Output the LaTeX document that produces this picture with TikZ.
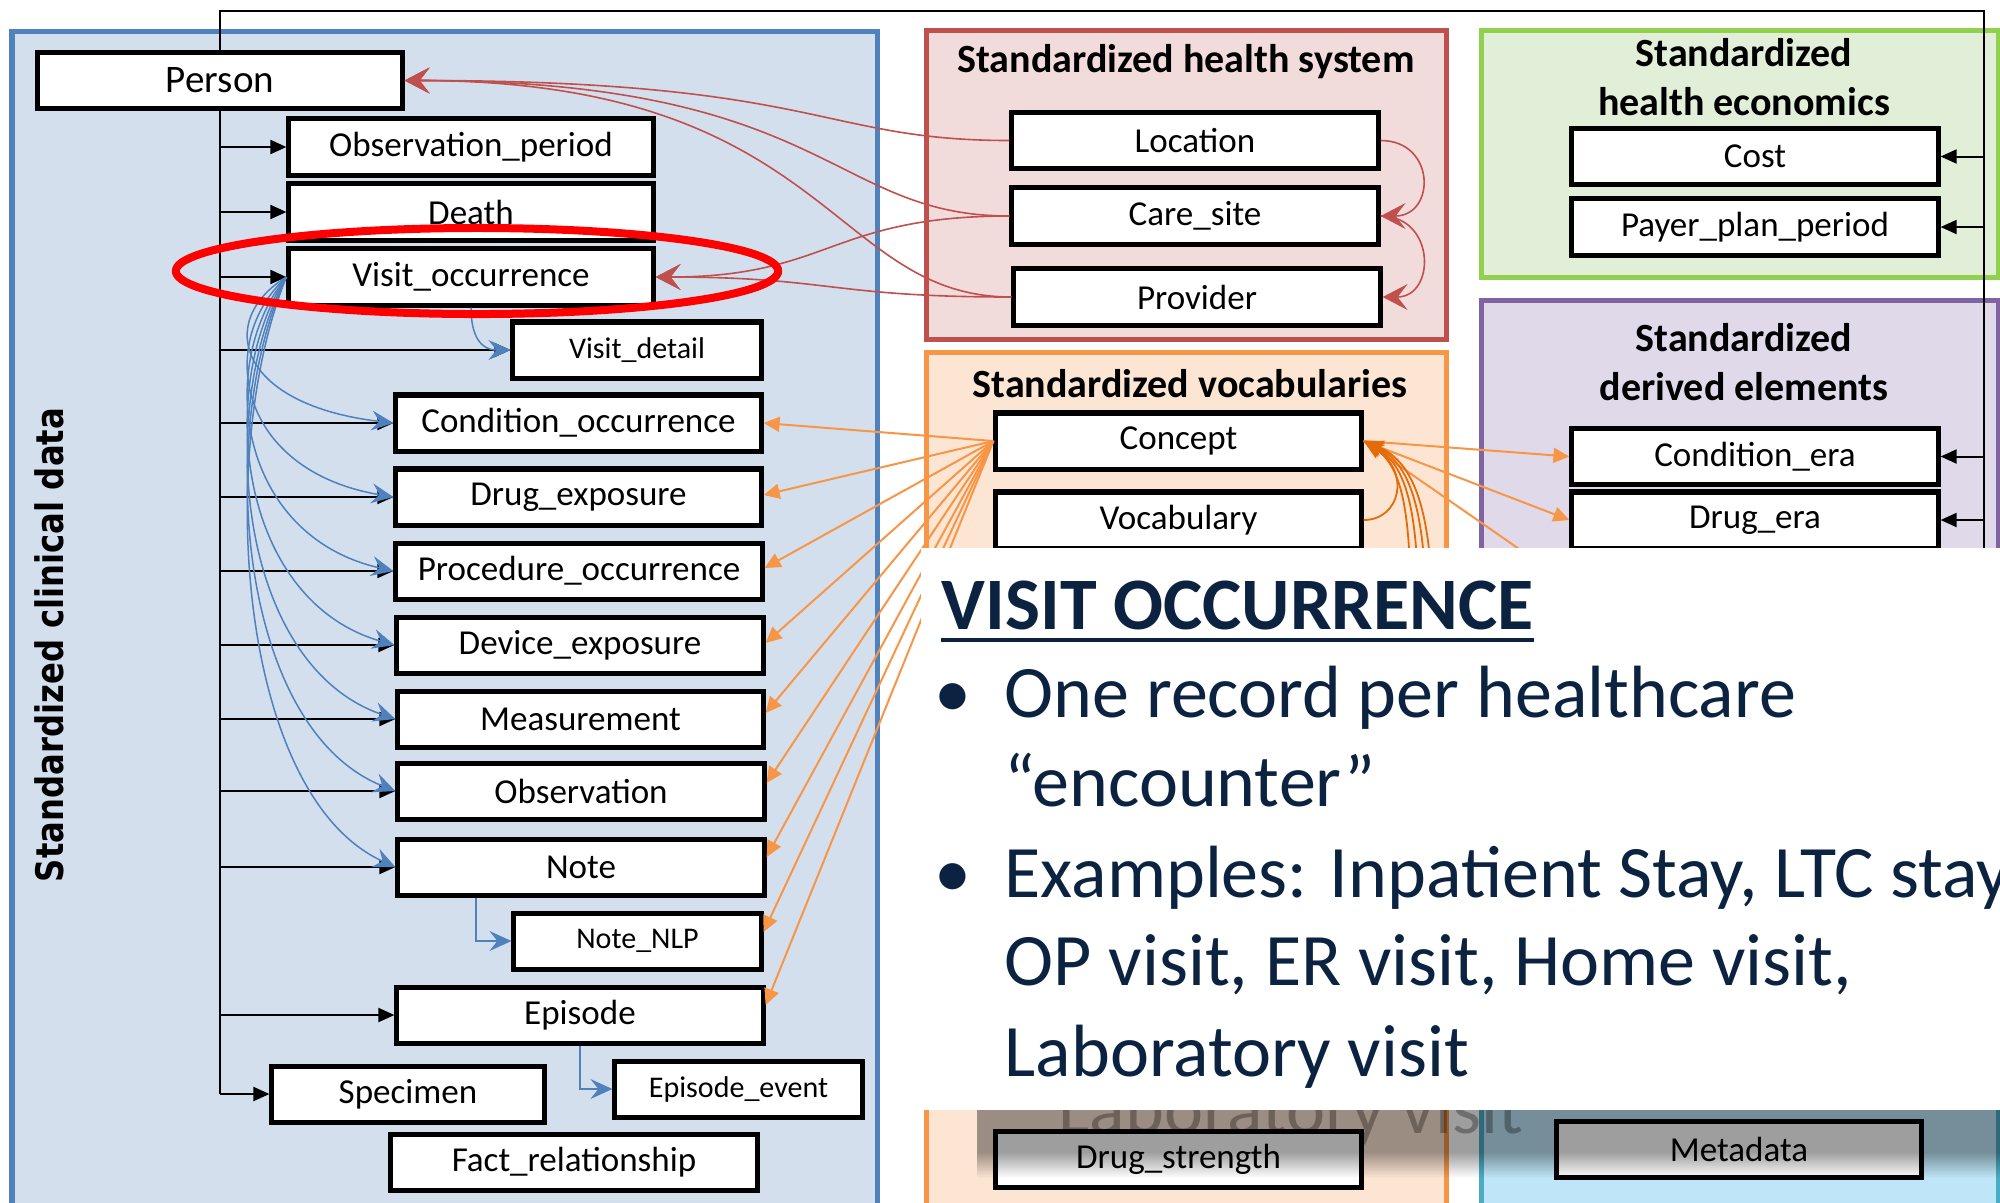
\documentclass[tikz,border=0pt]{standalone}
\usepackage{fontspec}
\setmainfont{Carlito}
\newfontfamily\clinfont[FakeStretch=0.85]{DejaVu Sans}
\usetikzlibrary{arrows.meta,calc,fadings}

\definecolor{clinfill}{HTML}{D4DFEE}
\definecolor{clinline}{HTML}{4F81BD}
\definecolor{hsfill}{HTML}{F2DCDB}
\definecolor{hsline}{HTML}{C0504D}
\definecolor{vocfill}{HTML}{FDE5D3}
\definecolor{vocline}{HTML}{F79646}
\definecolor{vocdark}{HTML}{E36C09}
\definecolor{econfill}{HTML}{E2EFD8}
\definecolor{econline}{HTML}{92D050}
\definecolor{derfill}{HTML}{E0D9E9}
\definecolor{derline}{HTML}{8064A2}
\definecolor{metafill}{HTML}{BEE6F8}
\definecolor{metaline}{HTML}{4BACC6}
\definecolor{navy}{HTML}{0B2340}

\pgfdeclarelayer{back}
\pgfdeclarelayer{front}
\pgfsetlayers{back,main,front}

\tikzset{
  tbl/.style={draw=black, line width=0.05cm, fill=white, inner sep=0pt,
    minimum height=0.56cm, font=\fontsize{9.96pt}{12pt}\selectfont},
  tblsmall/.style={tbl, font=\fontsize{8.54pt}{10pt}\selectfont},
  grptitle/.style={inner sep=0pt, align=center,
    font=\bfseries\fontsize{11.38pt}{13.9pt}\selectfont},
  trunk/.style={draw=black, line width=0.02cm},
  feed/.style={trunk, -{Triangle[length=0.16cm,width=0.14cm]}},
  visitlink/.style={draw=clinline, line width=0.015cm,
    -{Stealth[length=0.22cm,width=0.2cm,inset=0.08cm]}},
  siteref/.style={draw=hsline, line width=0.016cm,
    -{Stealth[length=0.25cm,width=0.26cm,inset=0.1cm]}},
  conceptref/.style={draw=vocline, line width=0.02cm,
    -{Triangle[length=0.16cm,width=0.15cm]}},
  vocabref/.style={draw=vocdark, line width=0.018cm,
    -{Stealth[length=0.2cm,width=0.16cm,inset=0.06cm]}},
  paneltext/.style={inner sep=0pt, anchor=base west, text=navy,
    font=\fontsize{21.05pt}{25pt}\selectfont},
}

\begin{document}
\begin{tikzpicture}[x=0.01cm, y=-0.01cm]
\useasboundingbox (0,0) rectangle (2000,1202);

% group backgrounds
\begin{pgfonlayer}{back}
  \fill[white] (0,0) rectangle (2000,1202);
  \draw[clinline, fill=clinfill, line width=0.05cm] (12,31) rectangle (877,1230);
  \draw[hsline, fill=hsfill, line width=0.05cm] (926,30) rectangle (1446,339);
  \draw[vocline, fill=vocfill, line width=0.05cm] (926,352) rectangle (1446,1230);
  \draw[econline, fill=econfill, line width=0.05cm] (1481,30) rectangle (1998,277);
  \draw[derline, fill=derfill, line width=0.05cm] (1481,300) rectangle (1998,700);
  \draw[metaline, fill=metafill, line width=0.05cm] (1481,1000) rectangle (1998,1230);
\end{pgfonlayer}

\coordinate (ltop) at (220,11);
\coordinate (rtop) at (1984,11);
\coordinate (rbot) at (1984,640);

% clinical data tables
\node[rotate=90, inner sep=0pt,
  font=\clinfont\bfseries\fontsize{10.8pt}{13pt}\selectfont] (cdtitle) at (49,645)
  {Standardized clinical data};
\node[tbl, minimum width=3.64cm, minimum height=0.55cm,
  font=\fontsize{11.1pt}{13pt}\selectfont] (person) at (220,80.5) {Person};
\node[tbl, minimum width=3.64cm] (obsper) at (471,147) {Observation\_period};
\node[tbl, minimum width=3.64cm] (death) at (471,212) {Death};
\node[tbl, minimum width=3.64cm] (visit) at (471,277) {Visit\_occurrence};
\node[tblsmall, minimum width=2.48cm] (vdetail) at (637,350) {Visit\_detail};
\node[tbl, minimum width=3.65cm] (cond) at (578.5,423) {Condition\_occurrence};
\node[tbl, minimum width=3.65cm] (drug) at (578.5,497) {Drug\_exposure};
\node[tbl, minimum width=3.66cm] (proc) at (579,571) {Procedure\_occurrence};
\node[tbl, minimum width=3.66cm] (device) at (580,645) {Device\_exposure};
\node[tbl, minimum width=3.65cm] (meas) at (580.5,719) {Measurement};
\node[tbl, minimum width=3.66cm] (obs) at (581,791) {Observation};
\node[tbl, minimum width=3.66cm] (note) at (581,867) {Note};
\node[tblsmall, minimum width=2.47cm] (nlp) at (637.5,941) {Note\_NLP};
\node[tbl, minimum width=3.66cm] (episode) at (580,1015) {Episode};
\node[tbl, minimum width=2.72cm] (specimen) at (408,1094) {Specimen};
\node[tblsmall, minimum width=2.47cm] (epevent) at (738.5,1089) {Episode\_event};
\node[tbl, minimum width=3.66cm] (factrel) at (574,1162) {Fact\_relationship};

% health system
\node[grptitle] (hstitle) at (1186,62) {Standardized health system};
\node[tbl, minimum width=3.66cm] (location) at (1195,140.5) {Location};
\node[tbl, minimum width=3.66cm] (caresite) at (1195,216) {Care\_site};
\node[tbl, minimum width=3.66cm] (provider) at (1197,297) {Provider};

% vocabularies
\node[grptitle] (voctitle) at (1190,384) {Standardized vocabularies};
\node[tbl, minimum width=3.65cm] (concept) at (1178.5,441) {Concept};
\node[tbl, minimum width=3.65cm] (vocab) at (1178.5,520) {Vocabulary};
\node[tbl, minimum width=3.65cm] (dstrength) at (1178.5,1159.5) {Drug\_strength};

% health economics
\node[grptitle] (etitle) at (1744,77.5) {Standardized\\health economics};
\node[tbl, minimum width=3.66cm] (cost) at (1755,156.5) {Cost};
\node[tbl, minimum width=3.66cm] (payer) at (1755,227) {Payer\_plan\_period};

% derived elements
\node[grptitle] (dtitle) at (1744,362) {Standardized\\derived elements};
\node[tbl, minimum width=3.66cm] (condera) at (1755,456.5) {Condition\_era};
\node[tbl, minimum width=3.66cm] (drugera) at (1755,520) {Drug\_era};

% metadata
\node[tbl, minimum width=3.64cm] (metadata) at (1739,1149.5) {Metadata};

% person trunk
\begin{pgfonlayer}{back}
  \draw[trunk] (rbot) -- (rtop) -- (ltop) -- (ltop |- specimen.west);
\end{pgfonlayer}
\foreach \t in {obsper,death,visit,vdetail,cond,drug,proc,device,meas,obs,note,episode,specimen}
  \draw[feed] (ltop |- \t.west) -- (\t.west);
\foreach \t in {cost,payer,condera,drugera}
  \draw[feed] (rtop |- \t.east) -- (\t.east);

% visit links
\draw[visitlink] (visit.west) .. controls (215,321) and (238,405) .. (cond.west);
\draw[visitlink] (visit.west) .. controls (215,343) and (238,471) .. (drug.west);
\draw[visitlink] (visit.west) .. controls (215,365) and (238,536) .. (proc.west);
\draw[visitlink] (visit.west) .. controls (215,387) and (238,601) .. (device.west);
\draw[visitlink] (visit.west) .. controls (215,410) and (238,666) .. (meas.west);
\draw[visitlink] (visit.west) .. controls (215,431) and (238,729) .. (obs.west);
\draw[visitlink] (visit.west) .. controls (215,454) and (238,796) .. (note.west);
\draw[visitlink] (visit.south) .. controls (471,335) and (480,350) .. (vdetail.west);
\draw[visitlink] ($(note.south)+(-105,0)$) |- (nlp.west);
\draw[visitlink] (episode.south) |- (epevent.west);

% health system links
\draw[siteref] (location.west) .. controls (820,140.5) and (820,80.5) .. (person.east);
\draw[siteref] (caresite.west) .. controls (830,216) and (830,80.5) .. (person.east);
\draw[siteref] (provider.west) .. controls (830,297) and (830,80.5) .. (person.east);
\draw[siteref] (caresite.west) .. controls (830,216) and (830,277) .. (visit.east);
\draw[siteref] (provider.west) .. controls (830,297) and (830,277) .. (visit.east);
\draw[siteref] (location.east) .. controls (1436,140.5) and (1436,216) .. (caresite.east);
\draw[siteref] (caresite.east) .. controls (1436,216) and (1436,297) .. (provider.east);

% concept links
\foreach \t/\s in {cond/0, drug/0.02, proc/0.03, device/0.02, meas/0.06, obs/0.08, note/0.1, nlp/0.09, episode/0.1}
  \draw[conceptref] (concept.west) -- ([yshift=\s cm]\t.east);
\draw[conceptref] (concept.east) -- (condera.west);
\draw[conceptref] (concept.east) -- (drugera.west);
\coordinate (vhid) at (1594,601);
\draw[conceptref] (concept.east) -- (vhid);

\coordinate (vsrc1) at (1410,660);
\coordinate (vsrc2) at (1418,660);
\coordinate (vsrc3) at (1426,660);
\coordinate (vsrc4) at (1432,660);
\draw[vocabref] (vocab.east) .. controls (1400,520) and (1412,472) .. (concept.east);
\draw[vocabref] (vsrc1) .. controls (1413,520) and (1405,468) .. (concept.east);
\draw[vocabref] (vsrc2) .. controls (1421,520) and (1410,466) .. (concept.east);
\draw[vocabref] (vsrc3) .. controls (1429,520) and (1414,464) .. (concept.east);
\draw[vocabref] (vsrc4) .. controls (1436,520) and (1418,462) .. (concept.east);

% highlight and call-out panel with its drop shadow
\begin{pgfonlayer}{front}
  \draw[red, line width=0.08cm] (477,271) ellipse [x radius=3.01cm, y radius=0.43cm];

  \fill[black, opacity=0.38] (977,1110) rectangle (2000,1152);
  \fill[black, opacity=0.38, path fading=south] (977,1152) rectangle (2000,1178);
  \node[paneltext, text=black, text opacity=0.3] (ghost) at (1058,1133) {Laboratory visit};

  \fill[white] (921,548) rectangle (2010,1110);
  \node[paneltext, font=\bfseries\fontsize{21.05pt}{25pt}\selectfont] (pantitle) at (941,629) {VISIT OCCURRENCE};
  \draw[navy, line width=0.045cm] ([yshift=-0.11cm]pantitle.base west) -- ([yshift=-0.11cm]pantitle.base east);
  \node[paneltext, anchor=base] (bul1) at (953,717) {\textbullet};
  \node[paneltext] (ln1) at (1004,717) {One record per healthcare};
  \node[paneltext] (ln2) at (1004,806) {“encounter”};
  \node[paneltext, anchor=base] (bul2) at (953,897) {\textbullet};
  \node[paneltext] (ln3) at (1004,897) {Examples: Inpatient Stay, LTC stay};
  \node[paneltext] (ln4) at (1004,985) {OP visit, ER visit, Home visit,};
  \node[paneltext] (ln5) at (1004,1076) {Laboratory visit};
\end{pgfonlayer}
\end{tikzpicture}
\end{document}
